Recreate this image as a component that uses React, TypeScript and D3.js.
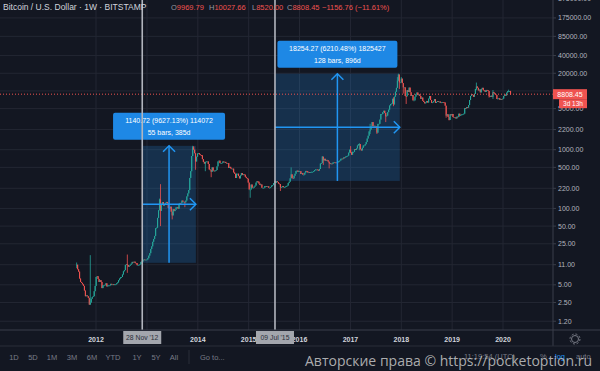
import React from 'react';
import * as d3 from 'd3';

// ---------- DATA ----------
const seriesStarts = ['2011-08-15', '2012-01-02', '2013-01-07', '2014-01-06', '2015-01-05', '2016-01-04', '2017-01-02', '2018-01-01', '2019-01-07', '2020-01-06'];

const closes2011 = [11.0, 9.2, 8.4, 6.4, 5.6, 5.4, 5.1, 4.8, 4.0, 3.2, 3.3, 3.2, 3.0, 2.3, 2.5, 2.9, 3.1, 3.2, 3.9, 4.8];
const closes2012 = [6.8, 7.0, 6.3, 5.6, 6.0, 5.6, 4.4, 4.9, 4.9, 5.0, 5.3, 4.7, 4.9, 4.9, 4.9, 5.2, 5.1, 5.1, 5.0, 5.1, 5.1, 5.3, 5.5, 6.0, 6.4, 6.7, 6.8, 7.5, 8.5, 8.9, 10.9, 11.2, 10.9, 10.2, 10.6, 11.0, 11.5, 12.3, 12.2, 12.4, 11.8, 11.7, 10.8, 10.8, 11.0, 11.2, 12.3, 12.5, 13.2, 13.5, 13.4, 13.4, 13.5];
const closes2013 = [14.2, 15.7, 17.3, 20.4, 22.6, 27.0, 30.2, 34.0, 46, 47, 69, 93, 142, 91, 120, 128, 112, 115, 123, 129, 122, 102, 100, 107, 88, 76, 97, 90, 95, 104, 105, 99, 120, 124, 123, 136, 130, 130, 127, 136, 160, 180, 206, 330, 430, 780, 1100, 1000, 870, 630, 760, 860];
const closes2014 = [870, 830, 810, 800, 690, 620, 580, 620, 630, 630, 570, 460, 450, 420, 500, 440, 430, 440, 450, 520, 630, 650, 590, 590, 595, 630, 620, 620, 595, 590, 590, 490, 510, 480, 475, 475, 410, 390, 330, 390, 390, 355, 325, 365, 400, 370, 380, 375, 345, 330, 320, 275];
const closes2015 = [210, 210, 255, 225, 225, 235, 245, 275, 290, 285, 265, 250, 255, 225, 225, 225, 240, 240, 237, 238, 225, 225, 232, 245, 250, 270, 290, 275, 290, 280, 265, 260, 230, 230, 240, 230, 230, 235, 240, 245, 270, 285, 325, 380, 330, 325, 360, 390, 435, 440, 420, 430];
const closes2016 = [430, 385, 400, 375, 375, 405, 435, 430, 410, 415, 410, 415, 420, 420, 430, 450, 460, 460, 455, 440, 470, 580, 590, 760, 660, 700, 650, 670, 660, 625, 590, 570, 580, 575, 605, 610, 605, 600, 610, 615, 640, 655, 700, 705, 700, 740, 735, 765, 775, 790, 890, 1000];
const closes2017 = [900, 820, 920, 920, 1020, 990, 1050, 1180, 1240, 1240, 1020, 970, 1080, 1180, 1180, 1240, 1350, 1550, 1730, 2050, 2200, 2500, 2950, 2500, 2550, 2500, 2500, 1950, 2750, 2750, 3250, 4050, 4050, 4350, 4600, 4200, 3700, 3800, 4350, 4800, 5650, 6000, 6100, 7350, 5900, 8000, 9700, 11300, 15000, 19000, 14000, 14000];
const closes2018 = [16200, 13600, 11500, 11500, 8200, 8100, 10300, 9600, 11400, 9500, 8200, 8500, 6900, 6900, 8000, 8900, 9400, 8500, 8700, 8200, 7350, 7700, 6800, 6500, 6150, 6350, 6750, 6350, 7400, 8200, 7000, 6300, 6400, 6700, 7250, 6250, 6500, 6700, 6600, 6600, 6300, 6400, 6450, 6400, 6350, 5600, 3800, 4000, 3600, 3200, 4000, 3850, 4050];
const closes2019 = [3600, 3550, 3550, 3400, 3650, 3600, 4100, 3800, 3900, 4000, 4000, 4100, 5100, 5050, 5300, 5200, 5750, 7000, 8200, 8750, 8550, 7950, 8900, 10800, 11900, 11300, 10200, 10550, 9450, 10800, 11300, 10300, 10150, 9600, 10400, 10300, 10000, 8200, 7900, 8300, 7950, 9550, 9200, 8800, 8500, 7300, 7400, 7500, 7100, 7300, 7250, 7400];
const closes2020 = [8200, 8650, 8350, 9350, 9900, 9900, 9965.21, 8808.45];

const seriesCloses = [closes2011, closes2012, closes2013, closes2014, closes2015, closes2016, closes2017, closes2018, closes2019, closes2020];
const firstOpen = 10.9;

// notable wicks (week start, high, low); other candles drawn as bodies
const wickDates = ['2011-08-15', '2011-11-21', '2012-08-13', '2013-04-01', '2013-04-08', '2013-07-01', '2013-09-30', '2013-11-25', '2013-12-02', '2013-12-16', '2014-02-24', '2014-04-07', '2015-01-12', '2015-08-17', '2015-11-02', '2016-06-13', '2016-06-20', '2016-08-01', '2017-01-02', '2017-03-06', '2017-05-22', '2017-07-10', '2017-09-11', '2017-11-06', '2017-12-04', '2017-12-11', '2017-12-18', '2018-01-01', '2018-01-15', '2018-02-05', '2018-11-19', '2018-12-10', '2019-06-24', '2019-09-23', '2019-10-21', '2020-02-10', '2020-02-24'];
const wickHighs = [12, 16, 16.4, 147, 259, 0, 0, 1163, 1150, 0, 0, 0, 0, 0, 500, 780, 0, 0, 1150, 1290, 2760, 0, 0, 7800, 17200, 19666, 0, 17200, 0, 0, 0, 0, 13880, 0, 10350, 10500, 10027.66];
const wickLows = [9.6, 2.3, 8.0, 0, 50, 65, 105, 0, 0, 455, 430, 340, 152, 198, 340, 0, 550, 480, 880, 975, 1850, 1850, 2950, 5500, 0, 0, 10800, 0, 9000, 6000, 3500, 3150, 10300, 7700, 7300, 0, 8520];

// axes
const priceTicks = [375000, 175000, 85000, 40000, 20000, 10000, 5000, 2200, 1000, 500, 220, 100, 50, 25, 11, 5, 2.5, 1.2];
const hiddenPriceLabels = [10000];
const yearTicks = [2012, 2013, 2014, 2015, 2016, 2017, 2018, 2019, 2020];

// drawings
const markerDates = ['2012-11-28', '2015-07-09'];
const markerLabels = ["28 Nov '12", "09 Jul '15"];
const measureStarts = ['2012-11-28', '2015-07-09'];
const measureDays = [385, 896];
const measureLows = [11.85, 293.9];
const measureHighs = [1163, 19666];
const measureLine1 = ['1140.72 (9627.13%) 114072', '18254.27 (6210.48%) 1825427'];
const measureLine2 = ['55 bars, 385d', '128 bars, 896d'];

// header / labels
const titleText = 'Bitcoin / U.S. Dollar · 1W · BITSTAMP';
const ohlcKeys = ['O', 'H', 'L', 'C'];
const ohlcValues = ['9969.79', '10027.66', '8520.00', '8808.45'];
const changeText = '−1156.76 (−11.61%)';
const lastPrice = 8808.45;
const lastPriceLabel = '8808.45';
const countdownLabel = '3d 13h';
const rangeButtons = ['1D', '5D', '1M', '3M', '6M', 'YTD', '1Y', '5Y', 'All'];
const gotoText = 'Go to...';
const clockText = '11:19:54 (UTC)';
const watermark = 'Авторские права © https://pocketoption.ru';

// ---------- CHART ----------
const W = 600, H = 371;
const PLOT_R = 553, PLOT_B = 330;
const BG = '#131722', GRID = '#232733', AXIS = '#3a3e4a';
const UP = '#26a69a', DOWN = '#ef5350', BLUE = '#2196f3';
const FONT = '"Liberation Sans", Arial, sans-serif';

const parse = d3.utcParse('%Y-%m-%d');
const fmt = d3.utcFormat('%Y-%m-%d');

const x = d3.scaleUtc().domain([Date.UTC(2012, 0, 1), Date.UTC(2020, 0, 1)]).range([96, 503]);
const y = d3.scaleLog().domain([1, 100000]).range([325.9, 325.9 - 5 * 58.74]);

type Candle = { date: Date; o: number; h: number; l: number; c: number };

function buildCandles(): Candle[] {
  const out: Candle[] = [];
  let prev = firstOpen;
  seriesCloses.forEach((arr, k) => {
    const start = parse(seriesStarts[k]) as Date;
    arr.forEach((c, i) => {
      const date = d3.utcDay.offset(start, 7 * i);
      const wi = wickDates.indexOf(fmt(date));
      const o = prev;
      let h = Math.max(o, c), l = Math.min(o, c);
      if (wi >= 0) {
        if (wickHighs[wi]) h = Math.max(h, wickHighs[wi]);
        if (wickLows[wi]) l = Math.min(l, wickLows[wi]);
      }
      out.push({ date, o, h, l, c });
      prev = c;
    });
  });
  return out;
}

export default function App() {
  const candles = buildCandles();
  const yearX = (yr: number) => x(Date.UTC(yr, 0, 1));

  return (
    <svg width={W} height={H} style={{ position: 'absolute', left: 0, top: 0, display: 'block' }} fontFamily={FONT}>
      <rect x={0} y={0} width={W} height={H} fill={BG} />

      {/* grid */}
      {priceTicks.map((t) => (
        <line key={'hg' + t} x1={0} x2={PLOT_R} y1={y(t)} y2={y(t)} stroke={GRID} strokeWidth={1} />
      ))}
      {yearTicks.map((yr) => (
        <line key={'vg' + yr} x1={yearX(yr)} x2={yearX(yr)} y1={0} y2={PLOT_B} stroke={GRID} strokeWidth={1} />
      ))}

      {/* measure ranges */}
      {measureStarts.map((s, i) => {
        const d0 = parse(s) as Date;
        const d1 = d3.utcDay.offset(d0, measureDays[i]);
        const x0 = x(d0), x1 = x(d1);
        const yt = y(measureHighs[i]), yb = y(measureLows[i]);
        return <rect key={'mr' + i} x={x0} y={yt} width={x1 - x0} height={yb - yt} fill={BLUE} fillOpacity={0.2} />;
      })}

      {/* candles */}
      {candles.map((d, i) => {
        const cx = x(d.date);
        const col = d.c >= d.o ? UP : DOWN;
        const top = y(Math.max(d.o, d.c)), bot = y(Math.min(d.o, d.c));
        return (
          <g key={'c' + i}>
            <line x1={cx} x2={cx} y1={y(d.h)} y2={y(d.l)} stroke={col} strokeWidth={0.8} />
            <rect x={cx - 0.55} y={top} width={1.1} height={Math.max(0.8, bot - top)} fill={col} />
          </g>
        );
      })}

      {/* measure arrows + labels */}
      {measureStarts.map((s, i) => {
        const d0 = parse(s) as Date;
        const d1 = d3.utcDay.offset(d0, measureDays[i]);
        const x0 = x(d0), x1 = x(d1);
        const yt = y(measureHighs[i]), yb = y(measureLows[i]);
        const mx = (x0 + x1) / 2, my = (yt + yb) / 2;
        const bw = measureLine1[i].length * 4 + 12;
        const bh = 27;
        const by = yt - 6 - bh;
        return (
          <g key={'ma' + i}>
            <line x1={mx} x2={mx} y1={yb} y2={yt} stroke={BLUE} strokeWidth={1.5} />
            <polyline points={`${mx - 6},${yt + 6} ${mx},${yt} ${mx + 6},${yt + 6}`} fill="none" stroke={BLUE} strokeWidth={1.5} />
            <line x1={x0} x2={x1} y1={my} y2={my} stroke={BLUE} strokeWidth={1.5} />
            <polyline points={`${x1 - 6},${my - 6} ${x1},${my} ${x1 - 6},${my + 6}`} fill="none" stroke={BLUE} strokeWidth={1.5} />
            <rect x={mx - bw / 2} y={by} width={bw} height={bh} rx={2} fill="#1e88e5" />
            <text x={mx} y={by + 8} fontSize={7} fill="#ffffff" textAnchor="middle" dominantBaseline="central">{measureLine1[i]}</text>
            <text x={mx} y={by + 20} fontSize={7} fill="#ffffff" textAnchor="middle" dominantBaseline="central">{measureLine2[i]}</text>
          </g>
        );
      })}

      {/* last price dotted line */}
      <line x1={0} x2={PLOT_R} y1={y(lastPrice)} y2={y(lastPrice)} stroke={DOWN} strokeWidth={1} strokeDasharray="1 2" />

      {/* vertical marker lines */}
      {markerDates.map((m, i) => {
        const mx = x(parse(m) as Date);
        return <line key={'vm' + i} x1={mx} x2={mx} y1={0} y2={PLOT_B} stroke="#b2b5be" strokeWidth={1.6} />;
      })}

      {/* axes lines */}
      <line x1={PLOT_R} x2={PLOT_R} y1={0} y2={346} stroke={AXIS} strokeWidth={1} />
      <line x1={0} x2={W} y1={PLOT_B} y2={PLOT_B} stroke={AXIS} strokeWidth={1} />

      {/* price axis */}
      {priceTicks.map((t) => (
        <g key={'pt' + t}>
          <line x1={PLOT_R} x2={PLOT_R + 3} y1={y(t)} y2={y(t)} stroke={AXIS} />
          {hiddenPriceLabels.indexOf(t) < 0 && (
            <text x={558} y={y(t)} fontSize={7} fill="#b2b5be" dominantBaseline="central">{t.toFixed(2)}</text>
          )}
        </g>
      ))}
      <rect x={PLOT_R} y={y(lastPrice) - 5} width={34} height={10} fill={DOWN} />
      <text x={PLOT_R + 17} y={y(lastPrice)} fontSize={7} fill="#ffffff" textAnchor="middle" dominantBaseline="central">{lastPriceLabel}</text>
      <rect x={559} y={y(lastPrice) + 5} width={28} height={9} fill={DOWN} />
      <text x={573} y={y(lastPrice) + 9.5} fontSize={6.5} fill="#ffffff" textAnchor="middle" dominantBaseline="central">{countdownLabel}</text>

      {/* time axis */}
      {yearTicks.map((yr) => (
        <text key={'yl' + yr} x={yearX(yr)} y={339} fontSize={7} fontWeight="bold" fill="#d1d4dc" textAnchor="middle" dominantBaseline="central">{yr}</text>
      ))}
      {markerDates.map((m, i) => {
        const mx = x(parse(m) as Date);
        return (
          <g key={'ml' + i}>
            <rect x={mx - 19} y={331} width={38} height={13} fill="#a3a6ad" />
            <text x={mx} y={337.5} fontSize={6.8} fill="#2a2e39" textAnchor="middle" dominantBaseline="central">{markerLabels[i]}</text>
          </g>
        );
      })}
      {/* gear icon */}
      <circle cx={575} cy={339} r={3.5} fill="none" stroke="#787b86" strokeWidth={1} />
      <circle cx={575} cy={339} r={5} fill="none" stroke="#787b86" strokeWidth={1} strokeDasharray="2 1.9" />

      {/* toolbar */}
      <line x1={0} x2={W} y1={346} y2={346} stroke="#2a2e39" strokeWidth={1} />
      {rangeButtons.map((b, i) => (
        <text key={'rb' + b} x={[14, 33, 52, 72, 92, 113, 137, 156, 174][i]} y={357} fontSize={7.5} fill="#787b86" textAnchor="middle" dominantBaseline="central">{b}</text>
      ))}
      <line x1={189} x2={189} y1={350} y2={364} stroke="#2a2e39" strokeWidth={1} />
      <text x={200} y={357} fontSize={7.5} fill="#787b86" dominantBaseline="central">{gotoText}</text>
      <text x={464} y={356} fontSize={7.5} fill="#787b86" dominantBaseline="central">{clockText}</text>
      <text x={540} y={356} fontSize={7.5} fill="#787b86" dominantBaseline="central">%</text>
      <text x={555} y={356} fontSize={7.5} fill={BLUE} dominantBaseline="central">log</text>
      <text x={576} y={356} fontSize={7.5} fill="#787b86" dominantBaseline="central">auto</text>

      {/* header */}
      <text x={3} y={9.5} fontSize={8.5} fill="#d1d4dc">{titleText}</text>
      {ohlcKeys.map((k, i) => (
        <text key={'oh' + k} x={[171, 209, 252, 287][i]} y={9.5} fontSize={7.5}>
          <tspan fill="#9598a1">{k}</tspan>
          <tspan fill={DOWN}>{ohlcValues[i]}</tspan>
        </text>
      ))}
      <text x={322} y={9.5} fontSize={7.5} fill={DOWN}>{changeText}</text>

      {/* watermark */}
      <text x={305} y={366} fontSize={14.5} fill="#c8c8c8" fillOpacity={0.85} textLength={287} lengthAdjust="spacingAndGlyphs" fontFamily='"Open Sans", "DejaVu Sans", sans-serif'>{watermark}</text>
    </svg>
  );
}
